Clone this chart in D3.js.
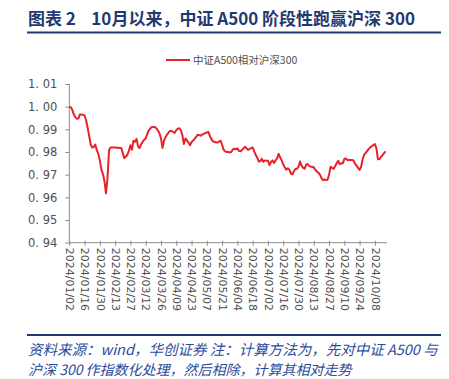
<!DOCTYPE html>
<html><head><meta charset="utf-8">
<script src="https://cdn.jsdelivr.net/npm/d3@7"></script>
<style>
body{margin:0;background:#fff;}
svg{display:block;}
</style></head>
<body>
<svg id="c" width="449" height="379"></svg>
<script>
const titleText = "图表 2    10月以来，中证 A500 阶段性跑赢沪深 300";
const seriesName = "中证A500相对沪深300";
const footLine1 = "资料来源：wind，华创证券 注：计算方法为，先对中证 A500 与";
const footLine2 = "沪深 300 作指数化处理，然后相除，计算其相对走势";
const yTicks = [0.94,0.95,0.96,0.97,0.98,0.99,1.00,1.01];
const xTickLabels = ["2024/01/02","2024/01/16","2024/01/30","2024/02/13","2024/02/27","2024/03/12","2024/03/26","2024/04/09","2024/04/23","2024/05/07","2024/05/21","2024/06/04","2024/06/18","2024/07/02","2024/07/16","2024/07/30","2024/08/13","2024/08/27","2024/09/10","2024/09/24","2024/10/08"];
const tickEvery = 10;
const values = [
1.000,0.9998,0.9985,0.9965,0.9953,0.9947,0.9948,0.9966,0.9965,0.9964,
0.9961,0.994,0.9907,0.987,0.9833,0.982,0.9822,0.9833,0.9808,0.9792,
0.9763,0.9722,0.9703,0.9672,0.9618,0.9685,0.9808,0.982,0.982,0.982,
0.982,0.9819,0.9819,0.9818,0.9818,0.9795,0.9773,0.978,0.9788,0.9805,
0.983,0.981,0.985,0.9845,0.9858,0.9825,0.9818,0.9834,0.9845,0.9854,
0.986,0.9879,0.9895,0.9904,0.991,0.991,0.991,0.9905,0.9895,0.9883,
0.986,0.9818,0.985,0.9866,0.9877,0.9886,0.9893,0.9893,0.9888,0.9885,
0.9897,0.9902,0.9905,0.9896,0.9874,0.9835,0.986,0.9852,0.9841,0.983,
0.9844,0.985,0.9858,0.9867,0.9876,0.9875,0.9872,0.9877,0.988,0.9883,
0.9886,0.9889,0.9871,0.9857,0.9847,0.9845,0.9842,0.9842,0.9846,0.985,
0.9832,0.981,0.9803,0.980,0.980,0.9798,0.980,0.9811,0.9815,0.9812,
0.9816,0.9805,0.9803,0.9809,0.9816,0.9823,0.9816,0.981,0.9813,0.9818,
0.982,0.9803,0.9788,0.9775,0.9758,0.976,0.977,0.9757,0.9763,0.9762,
0.9762,0.9742,0.9756,0.9763,0.9752,0.9763,0.9772,0.9792,0.9777,0.9763,
0.9745,0.9733,0.9722,0.9728,0.9723,0.9705,0.9702,0.9716,0.9725,0.9726,
0.9735,0.9758,0.974,0.9731,0.9726,0.9744,0.9747,0.9739,0.9735,0.9735,
0.9732,0.9722,0.9714,0.9709,0.970,0.9686,0.9676,0.9679,0.9677,0.9678,
0.970,0.9735,0.973,0.9726,0.9737,0.9751,0.9761,0.9747,0.975,0.975,
0.977,0.9771,0.9765,0.9765,0.9765,0.9765,0.9763,0.9749,0.974,0.973,
0.9721,0.9735,0.9768,0.9789,0.9796,0.9805,0.9814,0.9821,0.9826,0.9831,
0.9835,0.9816,0.9768,0.9769,0.9778,0.9786,0.9795,0.9803
];

const svg = d3.select("#c");
const navy = "#1f3a70";
const red = "#e8222b";
const axisCol = "#8c8c8c";
const txtCol = "#505050";

// Title
svg.append("text").attr("x",28).attr("y",25)
  .attr("font-family","'Noto Sans CJK SC',sans-serif").attr("font-weight","bold")
  .attr("font-size",17).attr("fill",navy).style("white-space","pre").text(titleText);
svg.append("line").attr("x1",27).attr("x2",441).attr("y1",32.5).attr("y2",32.5)
  .attr("stroke",navy).attr("stroke-width",2);

// Legend
svg.append("line").attr("x1",166).attr("x2",190).attr("y1",60).attr("y2",60)
  .attr("stroke",red).attr("stroke-width",2);
svg.append("text").attr("x",193).attr("y",64)
  .attr("font-family","'Noto Sans CJK SC',sans-serif").attr("font-size",10.5)
  .attr("fill",txtCol).text(seriesName);

// Scales
const x = d3.scaleLinear().domain([0, 207]).range([69.3, 69.3 + 1.528*207]);
const y = d3.scaleLinear().domain([0.94, 1.01]).range([242.7, 84]);

// Y axis
const yAxis = d3.axisLeft(y).tickValues(yTicks).tickSize(4).tickPadding(8)
  .tickFormat(d3.format(".2f"));
const gy = svg.append("g").attr("transform","translate(69.3,0)").call(yAxis);
gy.select(".domain").attr("stroke",axisCol).attr("d","M0,84V242.7");
gy.selectAll(".tick line").attr("stroke",axisCol);
gy.selectAll(".tick text").attr("fill",txtCol).attr("font-family","'DejaVu Sans',sans-serif")
  .attr("font-size",11.5).text(d=>d3.format(".2f")(d).replace(".",". "));

// X axis
const xTickIdx = xTickLabels.map((d,i)=>i*tickEvery);
const xAxis = d3.axisBottom(x).tickValues(xTickIdx).tickSize(3).tickPadding(3)
  .tickFormat((d,i)=>xTickLabels[i]);
const gx = svg.append("g").attr("transform","translate(0,242.7)").call(xAxis);
gx.select(".domain").attr("stroke",axisCol).attr("d","M69.3,0H387");
gx.selectAll(".tick line").attr("stroke",axisCol).attr("y1",-2);
gx.selectAll(".tick text").attr("fill",txtCol).attr("font-family","'DejaVu Sans',sans-serif")
  .attr("font-size",11).attr("text-anchor","start").attr("dy","0.35em")
  .attr("transform","rotate(90)").attr("x",5).attr("y",0);

// Line
const line = d3.line().x((d,i)=>x(i)).y(d=>y(d));
svg.append("path").datum(values).attr("d",line).attr("fill","none")
  .attr("stroke",red).attr("stroke-width",2).attr("stroke-linejoin","round");

// Footer
svg.append("line").attr("x1",27).attr("x2",441).attr("y1",335).attr("y2",335)
  .attr("stroke",navy).attr("stroke-width",2);
svg.append("text").attr("x",28).attr("y",355)
  .attr("font-family","'Noto Sans CJK SC',serif").attr("font-style","italic")
  .attr("font-size",14.5).attr("fill","#2b4c9b").text(footLine1);
svg.append("text").attr("x",28).attr("y",375)
  .attr("font-family","'Noto Sans CJK SC',serif").attr("font-style","italic")
  .attr("font-size",14).attr("fill","#2b4c9b").text(footLine2);
</script>
</body></html>
